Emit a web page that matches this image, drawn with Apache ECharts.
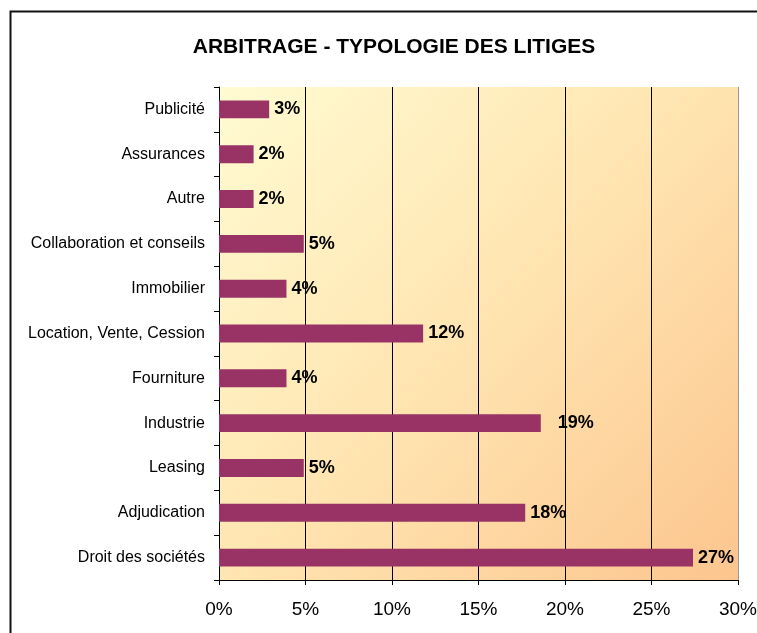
<!DOCTYPE html>
<html>
<head>
<meta charset="utf-8">
<script src="https://cdn.jsdelivr.net/npm/echarts@6/dist/echarts.min.js"></script>
<style>
  html, body { margin: 0; padding: 0; background: #fff; }
  #chart { width: 757px; height: 633px; }
</style>
</head>
<body>
<div id="chart"></div>
<script>
const categories = [
  "Publicité", "Assurances", "Autre", "Collaboration et conseils", "Immobilier",
  "Location, Vente, Cession", "Fourniture", "Industrie", "Leasing", "Adjudication",
  "Droit des sociétés",
];
const shares = [2.9, 2.0, 2.0, 4.9, 3.9, 11.8, 3.9, 18.6, 4.9, 17.7, 27.4];
const xTicks = [0, 5, 10, 15, 20, 25, 30];

const barColor = "#993366";
const font = "Liberation Sans";

const chart = echarts.init(document.getElementById("chart"), null, { renderer: "canvas" });

chart.setOption({
  animation: false,
  backgroundColor: "#fff",
  textStyle: { fontFamily: font, color: "#000" },
  title: {
    text: "ARBITRAGE - TYPOLOGIE DES LITIGES",
    left: 389,
    top: 32,
    textAlign: "center",
    textStyle: { fontFamily: font, fontSize: 21, fontWeight: "bold", color: "#000" },
  },
  graphic: [
    {
      type: "rect",
      left: 8,
      top: 9,
      shape: { width: 800, height: 700 },
      style: { fill: "none", stroke: "#111", lineWidth: 2 },
      silent: true,
      z: -10,
    },
  ],
  grid: {
    left: 219,
    right: 19,
    top: 87,
    bottom: 53,
    outerBoundsMode: "none",
    containLabel: false,
    show: true,
    borderWidth: 0,
    backgroundColor: new echarts.graphic.LinearGradient(0, 0, 1, 1, [
      { offset: 0, color: "#fffbd2" },
      { offset: 0.5, color: "#ffe4b0" },
      { offset: 1, color: "#fcc58e" },
    ]),
  },
  xAxis: {
    type: "value",
    min: xTicks[0],
    max: xTicks[xTicks.length - 1],
    interval: 5,
    axisLine: { show: true, lineStyle: { color: "#000", width: 1 } },
    axisTick: { show: true, length: 5, lineStyle: { color: "#000" } },
    axisLabel: {
      margin: 20,
      fontSize: 19,
      fontFamily: font,
      color: "#000",
      formatter: (v) => v + "%",
    },
    splitLine: {
      show: true,
      lineStyle: { color: ["#000", "#000", "#000", "#000", "#000", "#000", "#999"], width: 1 },
    },
  },
  yAxis: {
    type: "category",
    data: categories,
    inverse: true,
    axisLine: { show: true, lineStyle: { color: "#000", width: 1 } },
    axisTick: { show: true, length: 5, lineStyle: { color: "#000" } },
    axisLabel: { margin: 14, fontSize: 16, fontFamily: font, color: "#000" },
  },
  series: [
    {
      type: "bar",
      data: shares.map((v, i) => (categories[i] === "Industrie"
        ? { value: v, label: { offset: [12, 0] } }
        : v)),
      barCategoryGap: "60%",
      itemStyle: { color: barColor },
      label: {
        show: true,
        position: "right",
        distance: 5,
        fontFamily: font,
        fontSize: 18,
        fontWeight: "bold",
        color: "#000",
        formatter: (p) => Math.round(p.value) + "%",
      },
    },
  ],
});
</script>
</body>
</html>
